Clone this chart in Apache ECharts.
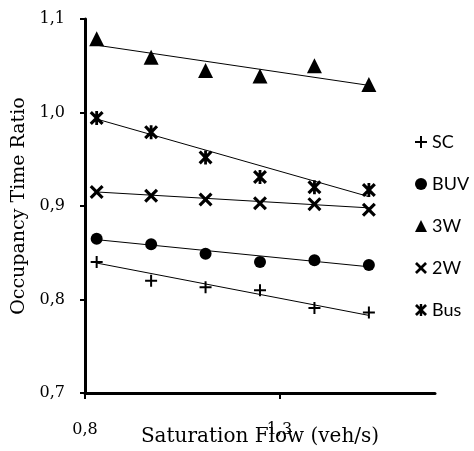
<!DOCTYPE html>
<html><head><meta charset="utf-8">
<script src="https://cdn.jsdelivr.net/npm/echarts@6/dist/echarts.min.js"></script>
<style>html,body{margin:0;padding:0;background:#fff}#c{width:474px;height:451px}</style>
</head><body><div id="c"></div>
<script>
// ---- data ----
const xFlow = [0.83, 0.97, 1.11, 1.25, 1.39, 1.53];
const sc  = [0.840, 0.820, 0.813, 0.810, 0.791, 0.786];
const buv = [0.865, 0.859, 0.849, 0.840, 0.842, 0.837];
const w3  = [1.079, 1.059, 1.045, 1.039, 1.050, 1.030];
const w2  = [0.915, 0.911, 0.907, 0.903, 0.902, 0.896];
const bus = [0.994, 0.979, 0.952, 0.931, 0.920, 0.917];
// trend line end values (at first and last x)
const trendSC  = [0.839, 0.783];
const trendBUV = [0.864, 0.835];
const trend3W  = [1.072, 1.029];
const trend2W  = [0.915, 0.898];
const trendBus = [0.993, 0.910];
const seriesNames = ['SC', 'BUV', '3W', '2W', 'Bus'];
const xTicks = [0.8, 1.3];

const P_PLUS = 'path://M5,0 H7 V5 H12 V7 H7 V12 H5 V7 H0 V5 H5 Z';
const P_X = 'path://M0,1.6 L1.6,0 L5,3.4 L8.4,0 L10,1.6 L6.6,5 L10,8.4 L8.4,10 L5,6.6 L1.6,10 L0,8.4 L3.4,5 Z';
const P_BUS = 'path://M0,1.6 L1.6,0 L5,3.4 L8.4,0 L10,1.6 L6.6,5 L10,8.4 L8.4,10 L5,6.6 L1.6,10 L0,8.4 L3.4,5 Z M4,0 H6 V10 H4 Z';

const symbols = {SC: P_PLUS, BUV: 'circle', '3W': 'triangle', '2W': P_X, Bus: P_BUS};
const sizes = {SC: 12, BUV: 12, '3W': 15, '2W': 14, Bus: 14};
const vals = {SC: sc, BUV: buv, '3W': w3, '2W': w2, Bus: bus};
const trends = {SC: trendSC, BUV: trendBUV, '3W': trend3W, '2W': trend2W, Bus: trendBus};

const fmt = v => v.toFixed(1).replace('.', ',');
const serif = '"DejaVu Serif", "Liberation Serif", serif';

const series = [];
seriesNames.forEach(n => {
  series.push({
    name: n + '_trend', type: 'line', silent: true, symbol: 'none', z: 2,
    lineStyle: {color: '#000', width: 1},
    data: [[xFlow[0], trends[n][0]], [xFlow[xFlow.length - 1], trends[n][1]]]
  });
});
seriesNames.forEach(n => {
  series.push({
    name: n, type: 'scatter', symbol: symbols[n], symbolSize: sizes[n], z: 5,
    itemStyle: {color: '#000', opacity: 1},
    data: xFlow.map((x, i) => [x, vals[n][i]])
  });
});

const chart = echarts.init(document.getElementById('c'));
chart.setOption({
  animation: false,
  backgroundColor: '#fff',
  grid: {left: 85, right: 39, top: 19, bottom: 58, containLabel: false, outerBoundsMode: 'none'},
  legend: {
    orient: 'vertical', left: 410, top: 128, itemWidth: 12, itemHeight: 12, itemGap: 24,
    textStyle: {fontFamily: 'Lato, "Open Sans", sans-serif', fontSize: 18, color: '#000'},
    data: seriesNames.map(n => ({name: n, icon: symbols[n]}))
  },
  xAxis: {
    type: 'value', min: 0.8, max: 1.7,
    name: 'Saturation Flow (veh/s)', nameLocation: 'middle', nameGap: 34, nameMoveOverlap: false,
    nameTextStyle: {fontFamily: serif, fontSize: 20, color: '#000'},
    axisLine: {show: true, onZero: false, lineStyle: {color: '#000', width: 3}},
    axisTick: {show: true, customValues: xTicks, length: 6, inside: false, lineStyle: {color: '#000', width: 2}},
    axisLabel: {customValues: xTicks, formatter: fmt, margin: 29, fontFamily: serif, fontSize: 16, color: '#000'},
    splitLine: {show: false}
  },
  yAxis: {
    type: 'value', min: 0.7, max: 1.1, interval: 0.1,
    name: 'Occupancy Time Ratio', nameLocation: 'middle', nameGap: 56, nameMoveOverlap: false,
    nameTextStyle: {fontFamily: serif, fontSize: 19, color: '#000'},
    axisLine: {show: true, lineStyle: {color: '#000', width: 3}},
    axisTick: {show: true, length: 5, lineStyle: {color: '#000', width: 2}},
    axisLabel: {formatter: fmt, margin: 20, fontFamily: serif, fontSize: 16, color: '#000'},
    splitLine: {show: false}
  },
  series: series
});
</script></body></html>
